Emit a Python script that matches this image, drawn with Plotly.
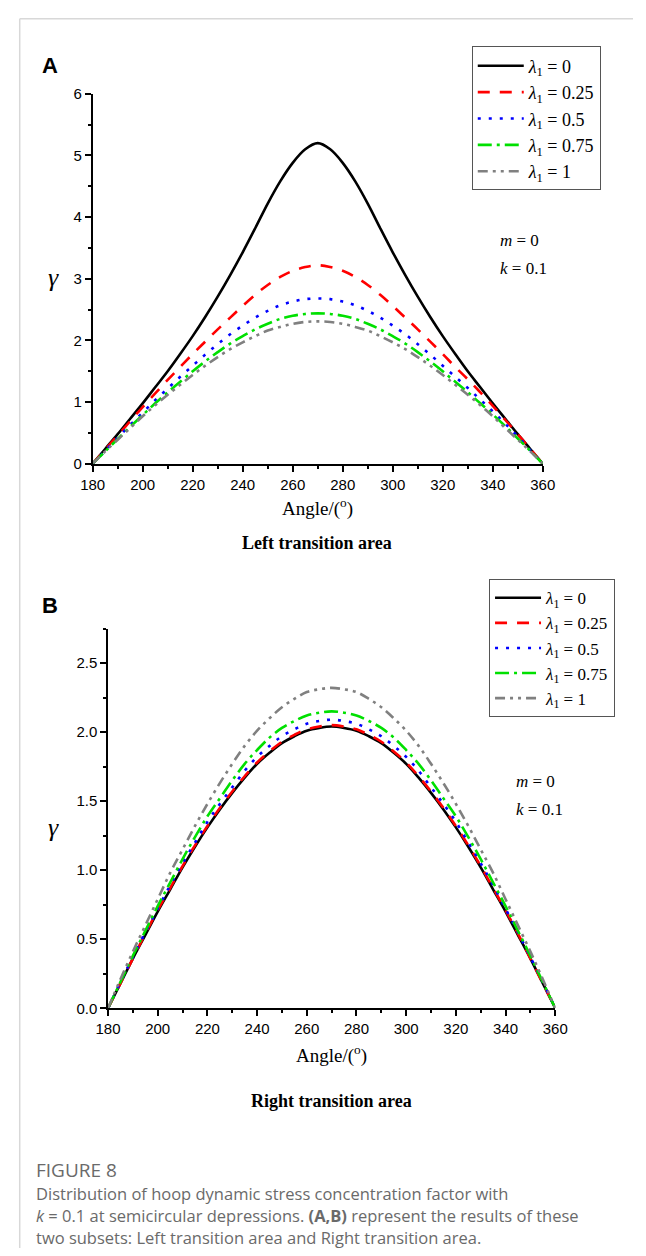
import plotly.graph_objects as go

# ---------------- data ----------------
angles = [180, 185, 190, 195, 200, 205, 210, 215, 220, 225, 230, 235, 240, 245, 250, 255, 260, 265, 270,
          275, 280, 285, 290, 295, 300, 305, 310, 315, 320, 325, 330, 335, 340, 345, 350, 355, 360]

series_names = ["<i>λ</i><sub>1</sub> = 0", "<i>λ</i><sub>1</sub> = 0.25", "<i>λ</i><sub>1</sub> = 0.5",
                "<i>λ</i><sub>1</sub> = 0.75", "<i>λ</i><sub>1</sub> = 1"]

# Panel A: left transition area
a_l0 = [0, 0.24, 0.48, 0.73, 0.98, 1.24, 1.50, 1.78, 2.07, 2.38, 2.71, 3.06, 3.43, 3.82, 4.22, 4.58, 4.88, 5.10, 5.20,
        5.10, 4.88, 4.58, 4.22, 3.82, 3.43, 3.06, 2.71, 2.38, 2.07, 1.78, 1.50, 1.24, 0.98, 0.73, 0.48, 0.24, 0]
a_l025 = [0, 0.23, 0.46, 0.69, 0.92, 1.14, 1.36, 1.57, 1.78, 1.98, 2.18, 2.37, 2.56, 2.74, 2.90, 3.03, 3.13, 3.19, 3.22,
          3.19, 3.13, 3.03, 2.90, 2.74, 2.56, 2.37, 2.18, 1.98, 1.78, 1.57, 1.37, 1.16, 0.94, 0.71, 0.48, 0.24, 0]
a_l05 = [0, 0.21, 0.42, 0.63, 0.83, 1.03, 1.22, 1.41, 1.59, 1.77, 1.94, 2.10, 2.24, 2.37, 2.48, 2.57, 2.63, 2.67, 2.68,
         2.67, 2.63, 2.57, 2.48, 2.37, 2.24, 2.10, 1.94, 1.77, 1.59, 1.41, 1.23, 1.04, 0.85, 0.65, 0.44, 0.22, 0]
a_l075 = [0, 0.20, 0.40, 0.60, 0.79, 0.98, 1.16, 1.33, 1.50, 1.66, 1.81, 1.95, 2.07, 2.18, 2.27, 2.35, 2.40, 2.43, 2.44,
          2.43, 2.40, 2.35, 2.27, 2.18, 2.07, 1.95, 1.81, 1.66, 1.50, 1.33, 1.16, 0.98, 0.80, 0.61, 0.41, 0.21, 0]
a_l1 = [0, 0.20, 0.39, 0.58, 0.77, 0.95, 1.12, 1.28, 1.44, 1.59, 1.73, 1.86, 1.97, 2.07, 2.16, 2.22, 2.27, 2.30, 2.31,
        2.30, 2.27, 2.22, 2.16, 2.07, 1.97, 1.86, 1.73, 1.59, 1.44, 1.28, 1.12, 0.95, 0.77, 0.58, 0.39, 0.20, 0]

# Panel B: right transition area
b_l0 = [0, 0.18, 0.36, 0.53, 0.70, 0.86, 1.02, 1.17, 1.31, 1.44, 1.56, 1.67, 1.77, 1.85, 1.92, 1.97, 2.01, 2.03, 2.04,
        2.03, 2.01, 1.97, 1.92, 1.85, 1.77, 1.67, 1.56, 1.44, 1.31, 1.17, 1.02, 0.86, 0.70, 0.53, 0.36, 0.18, 0]
b_l025 = [0, 0.18, 0.36, 0.54, 0.71, 0.87, 1.03, 1.18, 1.32, 1.45, 1.57, 1.68, 1.78, 1.86, 1.93, 1.98, 2.02, 2.04, 2.05,
          2.04, 2.02, 1.98, 1.93, 1.86, 1.78, 1.68, 1.57, 1.45, 1.32, 1.18, 1.03, 0.87, 0.71, 0.54, 0.36, 0.18, 0]
b_l05 = [0, 0.19, 0.37, 0.55, 0.72, 0.89, 1.05, 1.20, 1.35, 1.48, 1.60, 1.72, 1.82, 1.90, 1.97, 2.02, 2.06, 2.08, 2.09,
         2.08, 2.06, 2.02, 1.97, 1.90, 1.82, 1.72, 1.60, 1.48, 1.35, 1.20, 1.05, 0.89, 0.72, 0.55, 0.37, 0.19, 0]
b_l075 = [0, 0.19, 0.38, 0.56, 0.74, 0.91, 1.08, 1.24, 1.39, 1.52, 1.65, 1.77, 1.87, 1.96, 2.03, 2.08, 2.12, 2.14, 2.15,
          2.14, 2.12, 2.08, 2.03, 1.96, 1.87, 1.77, 1.65, 1.52, 1.39, 1.24, 1.08, 0.91, 0.74, 0.56, 0.38, 0.19, 0]
b_l1 = [0, 0.21, 0.41, 0.60, 0.79, 0.98, 1.15, 1.32, 1.48, 1.63, 1.77, 1.90, 2.01, 2.10, 2.18, 2.24, 2.29, 2.31, 2.32,
        2.31, 2.29, 2.24, 2.18, 2.10, 2.01, 1.90, 1.77, 1.63, 1.48, 1.32, 1.15, 0.98, 0.79, 0.60, 0.41, 0.21, 0]

panel_a = [a_l0, a_l025, a_l05, a_l075, a_l1]
panel_b = [b_l0, b_l025, b_l05, b_l075, b_l1]

x_ticks = [180, 200, 220, 240, 260, 280, 300, 320, 340, 360]
ya_ticks = [0, 1, 2, 3, 4, 5, 6]
yb_ticks = [0.0, 0.5, 1.0, 1.5, 2.0, 2.5]

# ---------------- styles ----------------
colors = ["#000000", "#ff0000", "#0000ff", "#00e000", "#808080"]
dashes = ["solid", "12px,10px", "3px,8px", "14px,5px,3px,5px", "10px,5px,3px,5px,3px,5px"]
widths = [2.6, 2.6, 2.6, 2.6, 2.6]

W, H = 646, 1256
fig = go.Figure()

for i, (name, ys) in enumerate(zip(series_names, panel_a)):
    fig.add_trace(go.Scatter(x=angles, y=ys, mode="lines", name=name, xaxis="x", yaxis="y",
                             line=dict(color=colors[i], dash=dashes[i], width=widths[i], shape="spline", smoothing=1.0),
                             legend="legend"))
for i, (name, ys) in enumerate(zip(series_names, panel_b)):
    fig.add_trace(go.Scatter(x=angles, y=ys, mode="lines", name=name, xaxis="x2", yaxis="y2",
                             line=dict(color=colors[i], dash=dashes[i], width=widths[i], shape="spline", smoothing=1.0),
                             legend="legend2"))

def px_x(p):
    return p / W

def px_y(p):
    return 1 - p / H

tickfont = dict(family="Liberation Sans, Arial", size=15, color="#000")
axis_common = dict(showgrid=False, zeroline=False, showline=True, linecolor="#000", linewidth=1.5,
                   ticks="outside", ticklen=6, tickwidth=1.5, tickcolor="#000", tickfont=tickfont)

fig.update_layout(
    width=W, height=H, margin=dict(l=0, r=0, t=0, b=0),
    paper_bgcolor="white", plot_bgcolor="white", showlegend=True,
    xaxis=dict(domain=[px_x(83), px_x(552)], range=[180, 360], tickvals=x_ticks, anchor="y",
               minor=dict(dtick=10, ticks="outside", ticklen=3, tickcolor="#000"), **axis_common),
    yaxis=dict(domain=[px_y(461), px_y(86)], range=[0, 6], tickvals=ya_ticks, anchor="x",
               minor=dict(dtick=0.5, ticks="outside", ticklen=3, tickcolor="#000"), **axis_common),
    xaxis2=dict(domain=[px_x(99), px_x(565)], range=[180, 360], tickvals=x_ticks, anchor="y2",
                minor=dict(dtick=10, ticks="outside", ticklen=3, tickcolor="#000"), **axis_common),
    yaxis2=dict(domain=[px_y(1013), px_y(628)], range=[0, 2.75], tickvals=yb_ticks, tickformat=".1f", anchor="x2",
                minor=dict(dtick=0.25, ticks="outside", ticklen=3, tickcolor="#000"), **axis_common),
    legend=dict(x=px_x(478), y=px_y(38), xanchor="left", yanchor="top", bgcolor="white",
                bordercolor="#555", borderwidth=1, itemwidth=46,
                font=dict(family="Liberation Serif, Times New Roman", size=18, color="#000")),
    legend2=dict(x=px_x(496), y=px_y(578), xanchor="left", yanchor="top", bgcolor="white",
                 bordercolor="#555", borderwidth=1, itemwidth=46,
                 font=dict(family="Liberation Serif, Times New Roman", size=17, color="#000")),
)

serif = "Liberation Serif, Times New Roman"
ann = []

def text(x, y, t, size, family=serif, color="#000", xanchor="center", yanchor="middle"):
    ann.append(dict(x=px_x(x), y=px_y(y), xref="paper", yref="paper", text=t, showarrow=False,
                    font=dict(family=family, size=size, color=color), xanchor=xanchor, yanchor=yanchor))

# panel labels
text(28, 57, "<b>A</b>", 22, family="Liberation Sans, Arial", xanchor="left")
text(28, 605, "<b>B</b>", 22, family="Liberation Sans, Arial", xanchor="left")
# gamma labels
text(42, 272, "<i>γ</i>", 26)
text(42, 830, "<i>γ</i>", 26)
# parameters
text(505, 235, "<i>m</i> = 0", 17, xanchor="left")
text(505, 263, "<i>k</i> = 0.1", 17, xanchor="left")
text(522, 783, "<i>m</i> = 0", 17, xanchor="left")
text(522, 811, "<i>k</i> = 0.1", 17, xanchor="left")
# axis titles
text(317, 505, "Angle/(<sup>o</sup>)", 19)
text(332, 1060, "Angle/(<sup>o</sup>)", 19)
text(317, 541, "<b>Left transition area</b>", 18)
text(332, 1107, "<b>Right transition area</b>", 18)
# caption
cap = "Open Sans, Noto Sans"
text(22, 1177, "FIGURE 8", 19, family=cap, color="#6a6a6a", xanchor="left")
text(22, 1201, "Distribution of hoop dynamic stress concentration factor with", 16.5, family=cap, color="#6a6a6a", xanchor="left")
text(22, 1223, "<i>k</i> = 0.1 at semicircular depressions. <b>(A,B)</b> represent the results of these", 16.5,
     family=cap, color="#6a6a6a", xanchor="left")
text(22, 1245, "two subsets: Left transition area and Right transition area.", 16.5, family=cap, color="#6a6a6a", xanchor="left")

fig.update_layout(annotations=ann)

# page frame lines
fig.add_shape(type="line", xref="paper", yref="paper", x0=px_x(7), x1=1, y0=px_y(10), y1=px_y(10),
              line=dict(color="#d8d8d8", width=1.5))
fig.add_shape(type="line", xref="paper", yref="paper", x0=px_x(7), x1=px_x(7), y0=0, y1=px_y(10),
              line=dict(color="#d8d8d8", width=1.5))

post = ("document.documentElement.style.margin='0';document.documentElement.style.overflow='hidden';"
        "document.body.style.margin='0';document.body.style.overflow='hidden';")

fig.write_html("out.html", config={"displayModeBar": False}, post_script=post)
